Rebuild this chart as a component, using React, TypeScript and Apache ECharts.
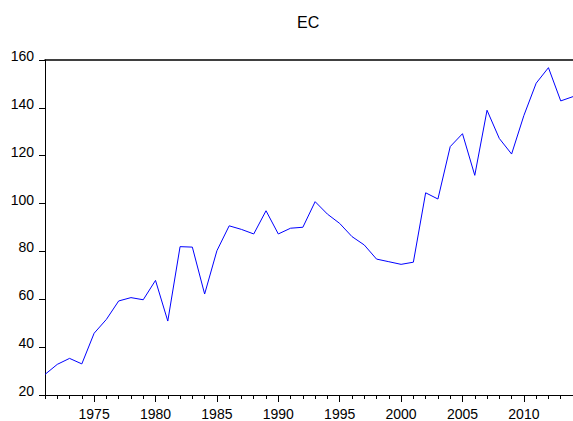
import React, { useEffect, useRef } from "react";
import * as echarts from "echarts";

const years: string[] = [];
for (let y = 1971; y <= 2014; y++) years.push(String(y));

const ecValues = [
  28.6, 32.8, 35.3, 33.0, 45.8, 51.6, 59.3, 60.7, 59.8, 67.9,
  50.9, 82.0, 81.8, 62.2, 80.3, 90.7, 89.2, 87.3, 97.0, 87.3,
  89.7, 90.1, 100.8, 95.6, 91.7, 86.2, 82.7, 76.8, 75.7, 74.6,
  75.5, 104.5, 101.9, 123.8, 129.2, 111.8, 139.0, 127.2, 120.7, 136.8,
  150.3, 156.8, 142.9, 144.7,
];

const yTicks = { min: 20, max: 160, interval: 20 };
const titleText = "EC";

const FONT = 'Arial, "Liberation Sans", sans-serif';

export default function App() {
  const ref = useRef<HTMLDivElement>(null);
  useEffect(() => {
    if (!ref.current) return;
    const chart = echarts.init(ref.current, null, { renderer: "svg" });
    const isMajor = (_i: number, v: string) => Number(v) % 5 === 0;
    chart.setOption({
      animation: false,
      backgroundColor: "#fff",
      title: {
        text: titleText,
        left: 297,
        top: 14,
        padding: 0,
        textStyle: { fontFamily: FONT, fontSize: 16, fontWeight: "normal", color: "#000" },
      },
      grid: { left: 45, right: 0, top: 60, bottom: 26 },
      xAxis: [
        {
          type: "category",
          data: years,
          boundaryGap: false,
          position: "bottom",
          axisLine: { show: true, lineStyle: { color: "#000", width: 1 } },
          axisTick: { show: true, interval: 0, length: 4, lineStyle: { color: "#000" } },
          axisLabel: {
            interval: isMajor,
            margin: 12,
            fontFamily: FONT,
            fontSize: 14,
            color: "#000",
          },
          splitLine: { show: false },
        },
        {
          type: "category",
          data: years,
          boundaryGap: false,
          position: "bottom",
          axisLine: { show: false },
          axisTick: { show: true, interval: isMajor, length: 7, lineStyle: { color: "#000" } },
          axisLabel: { show: false },
          splitLine: { show: false },
        },
        {
          type: "category",
          data: years,
          boundaryGap: false,
          position: "top",
          axisLine: { show: true, lineStyle: { color: "#000", width: 1.5 } },
          axisTick: { show: false },
          axisLabel: { show: false },
          splitLine: { show: false },
        },
      ],
      yAxis: {
        type: "value",
        min: yTicks.min,
        max: yTicks.max,
        interval: yTicks.interval,
        axisLine: { show: true, lineStyle: { color: "#000", width: 1 } },
        axisTick: { show: true, length: 6, lineStyle: { color: "#000" } },
        axisLabel: {
          margin: 11,
          fontFamily: FONT,
          fontSize: 14,
          color: "#000",
          verticalAlign: "bottom",
          lineHeight: 8,
        },
        splitLine: { show: false },
      },
      series: [
        {
          type: "line",
          data: ecValues,
          xAxisIndex: 0,
          showSymbol: false,
          symbol: "none",
          lineStyle: { color: "#0000FF", width: 1 },
        },
      ],
    });
    return () => chart.dispose();
  }, []);
  return (
    <div
      ref={ref}
      style={{ position: "absolute", left: 0, top: 0, width: 573, height: 421 }}
    />
  );
}
